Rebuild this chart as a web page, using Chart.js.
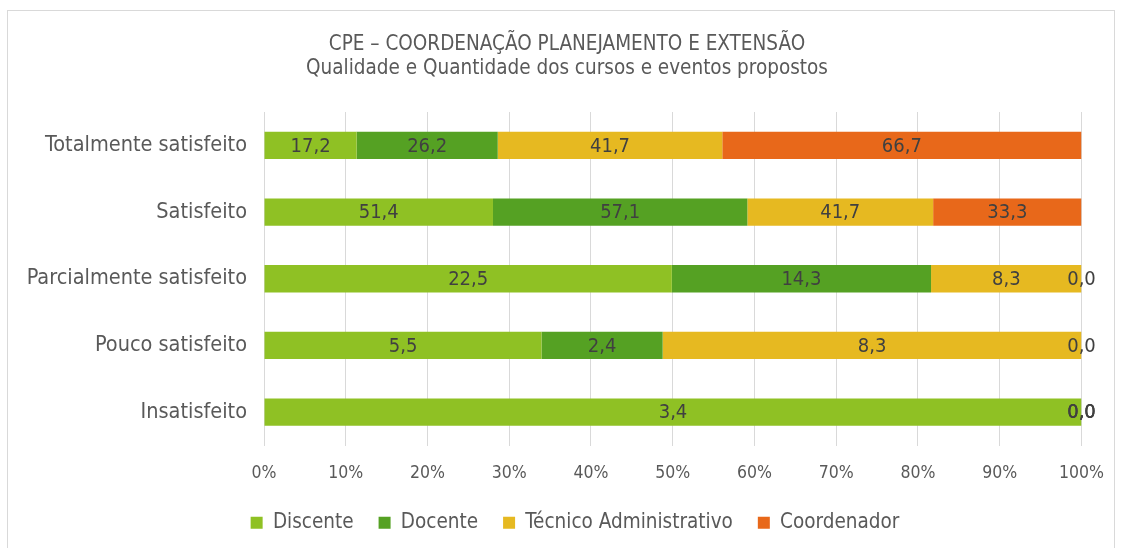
<!DOCTYPE html>
<html>
<head>
<meta charset="utf-8">
<script src="https://cdn.jsdelivr.net/npm/chart.js@4.4.1/dist/chart.umd.min.js"></script>
<style>
  html, body { margin: 0; padding: 0; background: #fff; }
  #wrap { width: 1121px; height: 548px; position: relative; }
</style>
</head>
<body>
<div id="wrap"><canvas id="c" width="1121" height="548"></canvas></div>
<script>
const categories = ['Totalmente satisfeito', 'Satisfeito', 'Parcialmente satisfeito', 'Pouco satisfeito', 'Insatisfeito'];
const seriesNames = ['Discente', 'Docente', 'Técnico Administrativo', 'Coordenador'];
const discente    = [17.2, 51.4, 22.5, 5.5, 3.4];
const docente     = [26.2, 57.1, 14.3, 2.4, 0.0];
const tecnico     = [41.7, 41.7, 8.3, 8.3, 0.0];
const coordenador = [66.7, 33.3, 0.0, 0.0, 0.0];
const xTicks = [0, 10, 20, 30, 40, 50, 60, 70, 80, 90, 100];
const titleLines = ['CPE – COORDENAÇÃO PLANEJAMENTO E EXTENSÃO', 'Qualidade e Quantidade dos cursos e eventos propostos'];
const colors = ['#8FC124', '#55A123', '#E6B921', '#E8681A'];

const FONT = 'DejaVu Sans Condensed';
const raw = [discente, docente, tecnico, coordenador];
const totals = categories.map((_, i) => raw.reduce((s, arr) => s + arr[i], 0));
const datasets = raw.map((arr, k) => ({
  label: seriesNames[k],
  data: arr.map((v, i) => totals[i] ? v / totals[i] * 100 : 0),
  rawValues: arr,
  backgroundColor: colors[k],
  borderWidth: 0,
  barPercentage: 0.41,
  categoryPercentage: 1.0
}));

const framePlugin = {
  id: 'frame',
  afterLayout(chart) {
    if (chart.legend) { chart.legend.left += 34; chart.legend.right += 34; }
  },
  beforeDraw(chart) {
    const ctx = chart.ctx;
    ctx.save();
    ctx.fillStyle = '#fff';
    ctx.fillRect(0, 0, chart.width, chart.height);
    ctx.strokeStyle = '#D9D9D9';
    ctx.lineWidth = 1;
    ctx.strokeRect(7.5, 10.5, 1107, 600);
    ctx.fillStyle = '#595959';
    ctx.font = '20.5px "' + FONT + '"';
    ctx.textAlign = 'center';
    ctx.textBaseline = 'middle';
    ctx.fillText(titleLines[0], 567, 45);
    ctx.fillText(titleLines[1], 567, 69);
    ctx.restore();
  }
};

const labelPlugin = {
  id: 'barLabels',
  afterDatasetsDraw(chart) {
    const ctx = chart.ctx;
    ctx.save();
    ctx.fillStyle = '#404040';
    ctx.font = '20px "' + FONT + '"';
    ctx.textAlign = 'center';
    ctx.textBaseline = 'middle';
    chart.data.datasets.forEach((ds, di) => {
      const meta = chart.getDatasetMeta(di);
      meta.data.forEach((el, i) => {
        const cx = (el.x + el.base) / 2;
        const txt = ds.rawValues[i].toFixed(1).replace('.', ',');
        ctx.fillText(txt, cx, el.y + 1);
      });
    });
    ctx.restore();
  }
};

new Chart(document.getElementById('c'), {
  type: 'bar',
  data: { labels: categories, datasets },
  options: {
    indexAxis: 'y',
    responsive: false,
    animation: false,
    layout: { padding: { top: 112, right: 39, bottom: 5, left: 0 } },
    scales: {
      x: {
        stacked: true,
        min: 0, max: 100,
        afterBuildTicks(scale) { scale.ticks = xTicks.map(v => ({ value: v })); },
        afterFit(scale) { scale.height = 42; },
        ticks: {
          callback: v => v + '%',
          color: '#595959',
          font: { family: FONT, size: 17.5 },
          padding: 17,
          maxRotation: 0
        },
        grid: { color: '#D9D9D9', drawTicks: false, lineWidth: 1 },
        border: { display: false }
      },
      y: {
        stacked: true,
        afterFit(scale) { scale.width = 264; },
        ticks: {
          color: '#595959',
          font: { family: FONT, size: 21.5 },
          padding: 17
        },
        grid: { display: false, drawTicks: false },
        border: { display: false }
      }
    },
    plugins: {
      title: { display: false },
      tooltip: { enabled: false },
      legend: {
        position: 'bottom',
        labels: {
          boxWidth: 12,
          boxHeight: 12,
          padding: 25,
          color: '#595959',
          font: { family: FONT, size: 20.5 }
        }
      }
    }
  },
  plugins: [framePlugin, labelPlugin]
});
</script>
</body>
</html>
